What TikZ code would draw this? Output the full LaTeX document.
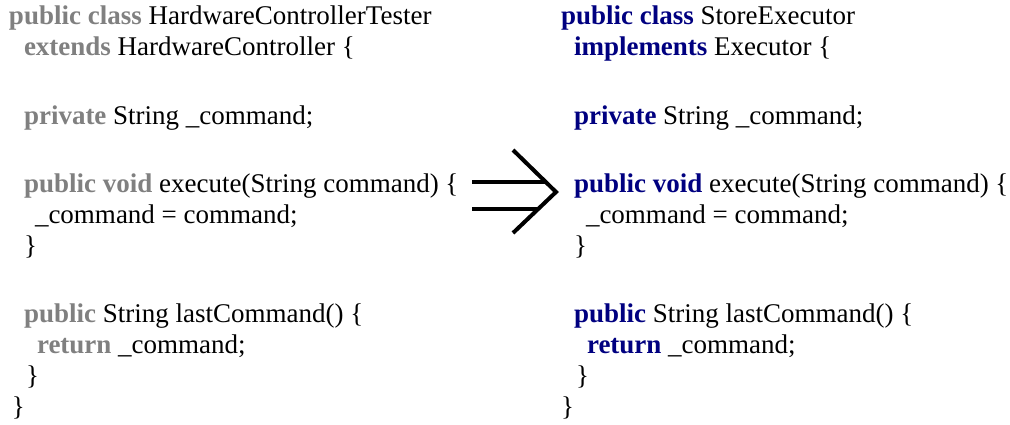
\documentclass[tikz,border=0pt]{standalone}
\usepackage{fontspec}
\setmainfont{Liberation Serif}
\definecolor{kwgray}{HTML}{808080}
\definecolor{kwnavy}{HTML}{000080}
\newcommand\kg[1]{{\bfseries\color{kwgray}#1}}
\newcommand\kn[1]{{\bfseries\color{kwnavy}#1}}
\tikzset{
  codeline/.style={anchor=base west, inner sep=0pt, outer sep=0pt, font=\fontsize{27}{31}\selectfont},
  arrowline/.style={line width=4pt, black}
}
\begin{document}
\begin{tikzpicture}[x=1pt, y=-1pt]
\useasboundingbox (0,0) rectangle (1010,424);
% left column
\node[codeline] (l1) at (9,24) {\kg{public class} HardwareControllerTester};
\node[codeline] (l2) at (24,55) {\kg{extends} HardwareController \{};
\node[codeline] (l3) at (24,124) {\kg{private} String \_command;};
\node[codeline] (l4) at (24,192) {\kg{public void} execute(String command) \{};
\node[codeline] (l5) at (35,223) {\_command = command;};
\node[codeline] (l6) at (24,254) {\}};
\node[codeline] (l7) at (24,322) {\kg{public} String lastCommand() \{};
\node[codeline] (l8) at (37,353) {\kg{return} \_command;};
\node[codeline] (l9) at (26,384) {\}};
\node[codeline] (l10) at (12,415) {\}};
% right column
\node[codeline] (r1) at (561,24) {\kn{public class} StoreExecutor};
\node[codeline] (r2) at (574,55) {\kn{implements} Executor \{};
\node[codeline] (r3) at (574,124) {\kn{private} String \_command;};
\node[codeline] (r4) at (574,192) {\kn{public void} execute(String command) \{};
\node[codeline] (r5) at (586,223) {\_command = command;};
\node[codeline] (r6) at (574,254) {\}};
\node[codeline] (r7) at (574,322) {\kn{public} String lastCommand() \{};
\node[codeline] (r8) at (587,353) {\kn{return} \_command;};
\node[codeline] (r9) at (576,384) {\}};
\node[codeline] (r10) at (561,415) {\}};
% arrow
\coordinate (atop) at (513,150);
\coordinate (atip) at (556,192);
\coordinate (abot) at (513,233);
\coordinate (u0) at (472,182);
\coordinate (u1) at (546,182);
\coordinate (d0) at (472,209);
\coordinate (d1) at (538,209);
\draw[arrowline] (atop) -- (atip) -- (abot);
\draw[arrowline] (u0) -- (u1);
\draw[arrowline] (d0) -- (d1);
\end{tikzpicture}
\end{document}
